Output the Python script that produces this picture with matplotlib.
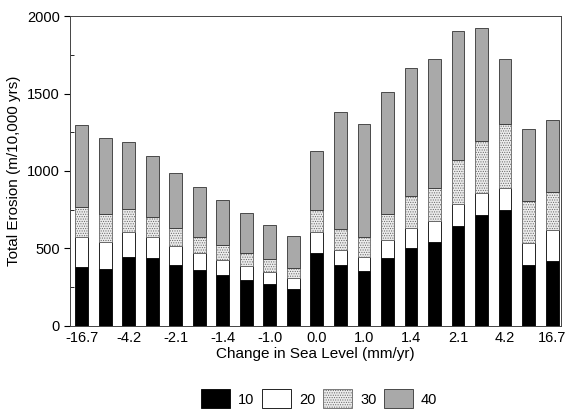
import matplotlib.pyplot as plt
import numpy as np

# sea level change labels (every other bar is labelled)
tick_labels = ["-16.7", "-4.2", "-2.1", "-1.4", "-1.0", "0.0",
               "1.0", "1.4", "2.1", "4.2", "16.7"]

top_10 = [383, 366, 445, 441, 396, 361, 329, 297, 269, 241,
          473, 392, 353, 439, 505, 544, 647, 716, 750, 393, 417]
top_20 = [572, 542, 604, 576, 514, 469, 424, 387, 346, 307,
          604, 492, 445, 555, 634, 675, 789, 860, 888, 533, 621]
top_30 = [765, 720, 753, 705, 634, 576, 524, 473, 430, 376,
          746, 628, 576, 720, 840, 892, 1069, 1191, 1303, 804, 862]
top_40 = [1294, 1213, 1185, 1097, 985, 895, 811, 729, 654, 578,
          1129, 1380, 1301, 1507, 1664, 1720, 1903, 1924, 1725, 1271, 1329]

series = ["10", "20", "30", "40"]


def main():
    plt.rcParams["font.family"] = ["Liberation Sans", "DejaVu Sans"]
    plt.rcParams["hatch.linewidth"] = 0.5

    t10 = np.array(top_10)
    t20 = np.array(top_20)
    t30 = np.array(top_30)
    t40 = np.array(top_40)
    segs = [t10, t20 - t10, t30 - t20, t40 - t30]
    bottoms = [np.zeros(len(t10)), t10, t20, t30]

    styles = [
        dict(color="black", edgecolor="black"),
        dict(color="white", edgecolor="black"),
        dict(color="#ececec", edgecolor="#666666", hatch="......."),
        dict(color="#a9a9a9", edgecolor="#333333"),
    ]

    fig = plt.figure(figsize=(5.7, 4.12), dpi=100)
    ax = fig.add_axes([0.123, 0.209, 0.862, 0.752])

    x = np.arange(len(t10))
    for seg, bot, st, name in zip(segs, bottoms, styles, series):
        ax.bar(x, seg, bottom=bot, width=0.55, linewidth=0.6, label=name, **st)

    ax.set_xlim(-0.5, 20.4)
    ax.set_ylim(0, 2000)
    ax.set_xticks(x[::2])
    ax.set_xticklabels(tick_labels, fontsize=10.5)
    ax.tick_params(axis="x", length=0, pad=4)
    ax.set_yticks(np.arange(0, 2001, 500))
    ax.set_yticks(np.arange(0, 2001, 250), minor=True)
    ax.tick_params(axis="y", which="major", direction="out", length=4,
                   labelsize=10.5)
    ax.tick_params(axis="y", which="minor", direction="in", length=3)
    for s in ax.spines.values():
        s.set_linewidth(0.7)
        s.set_color("#444444")

    ax.set_xlabel("Change in Sea Level (mm/yr)", fontsize=11, labelpad=1)
    ax.set_ylabel("Total Erosion (m/10,000 yrs)", fontsize=11, labelpad=4)

    fig.legend(loc="center", bbox_to_anchor=(0.56, 0.032), ncol=4,
               frameon=False, fontsize=10.5, handlelength=2.0,
               handleheight=1.65, columnspacing=0.5, handletextpad=0.55)

    fig.savefig("out.png", dpi=100)


if __name__ == "__main__":
    main()
